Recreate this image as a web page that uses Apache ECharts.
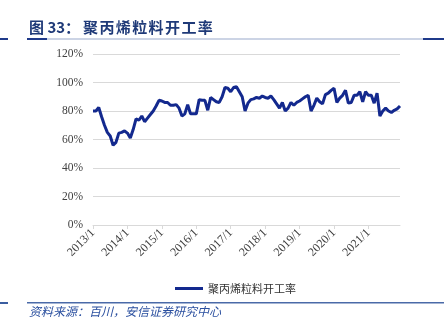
<!DOCTYPE html>
<html>
<head>
<meta charset="utf-8">
<script src="https://cdn.jsdelivr.net/npm/echarts@6/dist/echarts.min.js"></script>
<style>
  html, body { margin: 0; padding: 0; background: #fff; }
  #chart { width: 447px; height: 333px; }
</style>
</head>
<body>
<div id="chart"></div>
<script>
// Monthly polypropylene pellet operating rate (%), 2013/1 – 2021/12
var startYear = 2013;
var rate = [
  80, 80, 82.5, 76, 70, 65, 62.5, 56, 58, 64.5, 65, 66,
  64.5, 61, 67, 74.5, 73.5, 76.5, 72.5, 75, 77.5, 80, 83.5, 87.5,
  87, 86, 86, 84, 84, 84.5, 82, 76.5, 78, 84.5, 78, 78,
  78, 88, 87.5, 87.5, 80.5, 89.5, 88, 86.5, 86, 90, 96.5, 96,
  93.5, 96.5, 97, 93.5, 90, 80, 85.5, 88, 88.5, 89.5, 89, 90.5,
  89.5, 89, 90.5, 88, 85, 82, 86, 80, 82, 86, 84, 86,
  87, 88.5, 90, 91, 80, 84, 89, 86.5, 85, 91.5, 92.5, 94.5,
  96, 86, 89, 91, 94.5, 85.5, 86, 91, 91, 93.5, 86.5, 93.5,
  91, 91, 85.5, 92.5, 76.5, 80, 82, 80, 79, 80.5, 81.5, 83.5
];
var months = rate.map(function (_, i) {
  return (startYear + Math.floor(i / 12)) + '/' + (i % 12 + 1);
});
var yTicks = { min: 0, max: 120, step: 20 };
var seriesName = '聚丙烯粒料开工率';
var titlePrefix = '图 33：';
var titleBody = '聚丙烯粒料开工率';
var sourceText = '资料来源：百川，安信证券研究中心';

var chart = echarts.init(document.getElementById('chart'), null, { renderer: 'canvas' });
var serif = '"Liberation Serif", "Noto Sans CJK SC", serif';
var cjk = '"Noto Sans CJK SC", sans-serif';
var titleFont = 'bold 15px "Noto Sans CJK SC", sans-serif';

// Title: prefix plus letter-spaced heading characters
var titleGraphics = [
  { type: 'text', left: 29, top: 20, style: { text: titlePrefix, font: titleFont, fill: '#1f3a78' } }
];
titleBody.split('').forEach(function (ch, i) {
  titleGraphics.push({
    type: 'text', left: 83 + i * 16.4, top: 20,
    style: { text: ch, font: titleFont, fill: '#1f3a78' }
  });
});

chart.setOption({
  animation: false,
  backgroundColor: '#fff',
  grid: { left: 93, right: 47, top: 54, bottom: 108, containLabel: false },
  xAxis: {
    type: 'category',
    data: months,
    boundaryGap: false,
    axisLine: { lineStyle: { color: '#d9d9d9', width: 1 } },
    axisTick: { show: true, interval: 11, length: 4, lineStyle: { color: '#d9d9d9' } },
    axisLabel: {
      interval: 11,
      rotate: 45,
      margin: 6,
      fontFamily: serif,
      fontSize: 12,
      color: '#404040'
    },
    splitLine: { show: false }
  },
  yAxis: {
    type: 'value',
    min: yTicks.min,
    max: yTicks.max,
    interval: yTicks.step,
    axisLine: { show: false },
    axisTick: { show: false },
    axisLabel: {
      formatter: '{value}%',
      fontFamily: serif,
      fontSize: 11.5,
      color: '#404040',
      margin: 10
    },
    splitLine: { lineStyle: { color: '#d9d9d9', width: 1 } }
  },
  legend: {
    left: 170,
    top: 278,
    itemWidth: 28,
    itemHeight: 3,
    icon: 'rect',
    itemGap: 4,
    textStyle: { fontFamily: cjk, fontSize: 11, color: '#333' },
    data: [seriesName]
  },
  series: [{
    name: seriesName,
    type: 'line',
    data: rate,
    symbol: 'none',
    smooth: false,
    lineStyle: { color: '#13298e', width: 3 },
    itemStyle: { color: '#13298e' }
  }],
  graphic: titleGraphics.concat([
    { type: 'rect', shape: { x: 0, y: 38, width: 8, height: 2 }, style: { fill: '#1f3a8a' } },
    { type: 'rect', shape: { x: 27, y: 38, width: 20, height: 2 }, style: { fill: '#1f3a8a' } },
    { type: 'rect', shape: { x: 47, y: 38.5, width: 376, height: 1 }, style: { fill: '#9aa9cc' } },
    { type: 'rect', shape: { x: 423, y: 38, width: 21, height: 2 }, style: { fill: '#1f3a8a' } },
    { type: 'rect', shape: { x: 0, y: 302, width: 8, height: 2 }, style: { fill: '#3a5da0' } },
    { type: 'rect', shape: { x: 27, y: 302, width: 417, height: 1.5 }, style: { fill: '#4a6aa8' } },
    { type: 'text', left: 29, top: 305,
      style: { text: sourceText, font: 'italic 12px "Noto Sans CJK SC", sans-serif', fill: '#2a4f9f' } }
  ])
});
</script>
</body>
</html>
